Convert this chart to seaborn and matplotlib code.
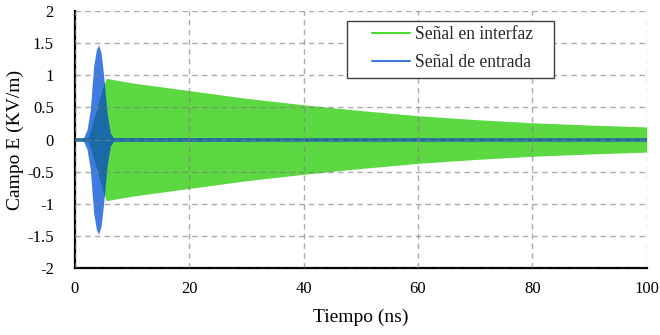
import matplotlib
matplotlib.use("Agg")
import matplotlib.pyplot as plt
from matplotlib.lines import Line2D
from matplotlib.patches import Rectangle
import numpy as np
import pandas as pd
import seaborn as sns

# envelope of the interface signal, KV/m vs ns
t_interfaz = [0, 2.3, 3.0, 3.8, 4.5, 5.0, 5.45, 10, 20, 30, 40, 50, 60, 70, 80, 90, 100]
env_interfaz = [0, 0, 0.18, 0.42, 0.65, 0.8, 0.95, 0.88, 0.76, 0.64, 0.54, 0.45, 0.37, 0.31, 0.26, 0.225, 0.195]

# envelope of the input pulse
t_entrada = [0, 1.5, 2.15, 2.73, 3.3, 3.8, 4.17, 4.6, 5.05, 5.63, 6.2, 6.8, 100]
env_entrada = [0, 0.02, 0.15, 0.46, 1.13, 1.4, 1.47, 1.35, 1.0, 0.41, 0.1, 0.02, 0]

x_ticks = [0, 20, 40, 60, 80, 100]
y_ticks = [-2, -1.5, -1, -0.5, 0, 0.5, 1, 1.5, 2]
y_labels = ["-2", "-1.5", "-1", "-0.5", "0", "0.5", "1", "1.5", "2"]

verde = "#5bd842"
azul = "#3f7be0"
azul_osc = "#1a6aa8"

sns.set_theme(style="white")
plt.rcParams["font.family"] = ["Liberation Serif", "DejaVu Serif"]

df_i = pd.DataFrame({"t": t_interfaz, "e": env_interfaz})
df_e = pd.DataFrame({"t": t_entrada, "e": env_entrada})

fig = plt.figure(figsize=(6.6, 3.35), dpi=100)
ax = fig.add_axes([0.1132, 0.199, 0.8667, 0.769])

g = ax.fill_between(df_i["t"], df_i["e"], -df_i["e"], color=verde, lw=0, zorder=1)
ax.fill_between(df_e["t"], df_e["e"], -df_e["e"], color=azul, lw=0, zorder=1.2)
# part of the pulse lying over the green band looks darker
over = ax.fill_between(df_e["t"], df_e["e"], -df_e["e"], color=azul_osc, lw=0, zorder=1.3)
over.set_clip_path(g.get_paths()[0], ax.transData)

sns.lineplot(x=df_e["t"], y=df_e["e"] * 0, color=azul_osc, lw=2.6, ax=ax, zorder=1.5)

ax.set_xlim(0, 100)
ax.set_ylim(-2, 2)
ax.set_xticks(x_ticks)
ax.set_yticks(y_ticks)
ax.set_yticklabels(y_labels)
ax.tick_params(length=0, labelsize=12, colors="black")
ax.tick_params(axis="x", pad=9)
ax.tick_params(axis="y", pad=15)
ax.set_xlabel("Tiempo (ns)", fontsize=14, color="black")
ax.set_ylabel("Campo E (KV/m)", fontsize=14, color="black")
ax.xaxis.set_label_coords(0.5, -0.155)
ax.yaxis.set_label_coords(-0.088, 0.5)

ax.set_axisbelow(False)
ax.grid(True, color="#808080", alpha=0.65, lw=1.0, ls=(0, (4, 3)))

for s in ["top", "right"]:
    ax.spines[s].set_visible(False)
for s in ["left", "bottom"]:
    ax.spines[s].set_color("black")
    ax.spines[s].set_linewidth(1.6)

# legend box
caja = Rectangle((0.476, 0.7387), 0.362, 0.2213, transform=ax.transAxes,
                 facecolor="white", edgecolor="#404040", lw=1.0, zorder=5)
ax.add_patch(caja)
handles = [Line2D([], [], color="#4cd930", lw=1.5), Line2D([], [], color=azul, lw=1.5)]
leg = ax.legend(handles, ["Señal en interfaz", "Señal de entrada"], loc="upper left",
                bbox_to_anchor=(0.519, 0.94), fontsize=12.7, handlelength=2.15,
                frameon=False, borderpad=0, labelspacing=0.6, handletextpad=0.3,
                borderaxespad=0)
leg.set_zorder(6)

fig.savefig("out.png", dpi=100)
